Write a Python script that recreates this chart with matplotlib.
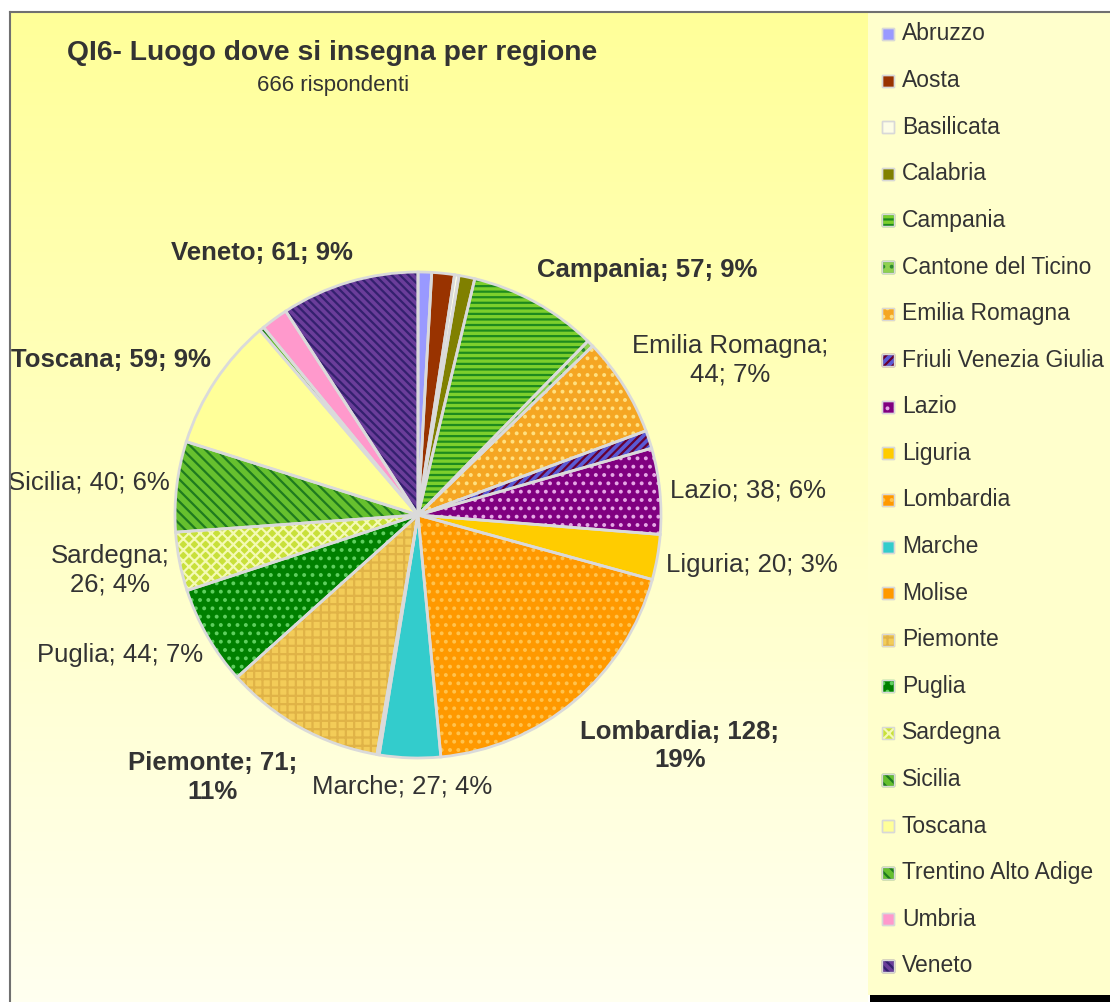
import matplotlib.pyplot as plt
from matplotlib.patches import Rectangle
from matplotlib.lines import Line2D
from matplotlib.colors import LinearSegmentedColormap
import numpy as np

# data
regions = ['Abruzzo', 'Aosta', 'Basilicata', 'Calabria', 'Campania',
           'Cantone del Ticino', 'Emilia Romagna', 'Friuli Venezia Giulia',
           'Lazio', 'Liguria', 'Lombardia', 'Marche', 'Molise', 'Piemonte',
           'Puglia', 'Sardegna', 'Sicilia', 'Toscana', 'Trentino Alto Adige',
           'Umbria', 'Veneto']
counts = [6, 10, 2, 7, 57, 3, 44, 8, 38, 20, 128, 27, 1, 71, 44, 26, 40, 59, 2, 12, 61]

# styles
face_colors = ['#9999ff', '#993300', '#fdfde6', '#808000', '#7ccf2c',
               '#8fd14f', '#f5a623', '#5a5ad6', '#800080', '#ffcc00',
               '#ff9900', '#33cccc', '#ff9900', '#f3cc58', '#008000',
               '#c8e03a', '#66c02e', '#ffff99', '#66c02e', '#ff99cc', '#6a3d9a']
hatches = [None, None, None, None, '---',
           '..', '..', '////', '..', None,
           '..', None, None, '++', '..',
           'xxx', '\\\\\\', None, '\\\\\\', None, '\\\\\\\\']
hatch_colors = [None, None, None, None, '#1e8a1e',
                '#2d8a2d', '#ffe080', '#660033', '#e6a8e6', None,
                '#ffc34d', None, None, '#e0b347', '#5fcf5f',
                '#f4fab4', '#1f7a1f', None, '#1f7a1f', None, '#33206e']

# where Excel wrapped the data labels (newline after n-th '; ')
label_breaks = {'Emilia Romagna': 1, 'Lombardia': 2, 'Piemonte': 2, 'Sardegna': 1}
label_pos = {
    'Veneto': (-0.642, 1.078), 'Campania': (0.942, 1.008),
    'Emilia Romagna': (1.284, 0.638), 'Lazio': (1.358, 0.099),
    'Liguria': (1.374, -0.206), 'Lombardia': (1.078, -0.951),
    'Marche': (-0.066, -1.119), 'Piemonte': (-0.844, -1.080),
    'Puglia': (-1.226, -0.576), 'Sardegna': (-1.268, -0.226),
    'Sicilia': (-1.354, 0.132), 'Toscana': (-1.263, 0.638),
}

plt.rcParams['font.family'] = ['Liberation Sans', 'DejaVu Sans']
plt.rcParams['hatch.linewidth'] = 1.6
txt_col = '#333333'

W, H = 1110, 1002
fig = plt.figure(figsize=(W / 100, H / 100), dpi=100)
fig.patch.set_facecolor('white')

# plot area background gradient
bg = fig.add_axes([10 / W, 0, (868 - 10) / W, (H - 12) / H])
grad = np.linspace(0, 1, 256).reshape(-1, 1)
cmap = LinearSegmentedColormap.from_list('bg', ['#ffff99', '#fffff0'])
bg.imshow(grad, aspect='auto', cmap=cmap, extent=[0, 1, 0, 1])
bg.axis('off')

# legend box
fig.add_artist(Rectangle((868 / W, 7 / H), (W - 868) / W, (H - 12 - 7) / H,
                         transform=fig.transFigure, facecolor='#ffffcc', edgecolor='none'))
fig.add_artist(Rectangle((870 / W, 0), (W - 870) / W, 7 / H,
                         transform=fig.transFigure, facecolor='black', edgecolor='none'))

# chart border
fig.add_artist(Line2D([10 / W, 1], [1 - 12 / H] * 2, color='#707070', lw=1.5))
fig.add_artist(Line2D([10 / W] * 2, [0, 1 - 12 / H], color='#707070', lw=1.5))

# pie
cx, cy, r = 418, 515, 243
ax = fig.add_axes([(cx - r) / W, (H - cy - r) / H, 2 * r / W, 2 * r / H])
ax.axis('off')

wedges, _ = ax.pie(counts, colors=face_colors, startangle=90, counterclock=False,
                   radius=1, wedgeprops=dict(linewidth=0))
for w, h, hc in zip(wedges, hatches, hatch_colors):
    if h:
        w.set_edgecolor(hc)
        w.set_hatch(h)
ax.pie(counts, startangle=90, counterclock=False, radius=1,
       wedgeprops=dict(fill=False, edgecolor='#dadada', linewidth=2))
ax.set_xlim(-1, 1)
ax.set_ylim(-1, 1)

total = sum(counts)
for name, v in zip(regions, counts):
    if name not in label_pos:
        continue
    parts = [name, str(v), f'{round(100 * v / total)}%']
    k = label_breaks.get(name)
    if k:
        s = '; '.join(parts[:k]) + ';\n' + '; '.join(parts[k:])
    else:
        s = '; '.join(parts)
    x, y = label_pos[name]
    ax.text(x, y, s, ha='center', va='center', fontsize=18.5, color=txt_col,
            fontweight='bold' if v > 50 else 'normal', linespacing=1.25)

# titles
fig.text(332 / W, 1 - 53 / H, 'QI6- Luogo dove si insegna per regione',
         ha='center', va='center', fontsize=20.3, fontweight='bold', color=txt_col)
fig.text(333 / W, 1 - 85 / H, '666 rispondenti', ha='center', va='center',
         fontsize=16, color=txt_col)

# legend (manual, to follow Excel spacing)
y0, dy = 34, 46.6
for i, name in enumerate(regions):
    yc = 1 - (y0 + i * dy) / H
    sq = Rectangle((882 / W, yc - 6 / H), 12 / W, 12 / H, transform=fig.transFigure,
                   facecolor=face_colors[i], edgecolor='#d8d8d8', lw=1)
    if hatches[i]:
        sq.set_edgecolor(hatch_colors[i])
        sq.set_hatch(hatches[i])
    fig.add_artist(sq)
    fig.add_artist(Rectangle((882 / W, yc - 6 / H), 12 / W, 12 / H, transform=fig.transFigure,
                             fill=False, edgecolor='#d8d8d8', lw=1))
    fig.text(902 / W, yc, name, ha='left', va='center', fontsize=16.5, color=txt_col)

fig.savefig('out.png', dpi=100)
